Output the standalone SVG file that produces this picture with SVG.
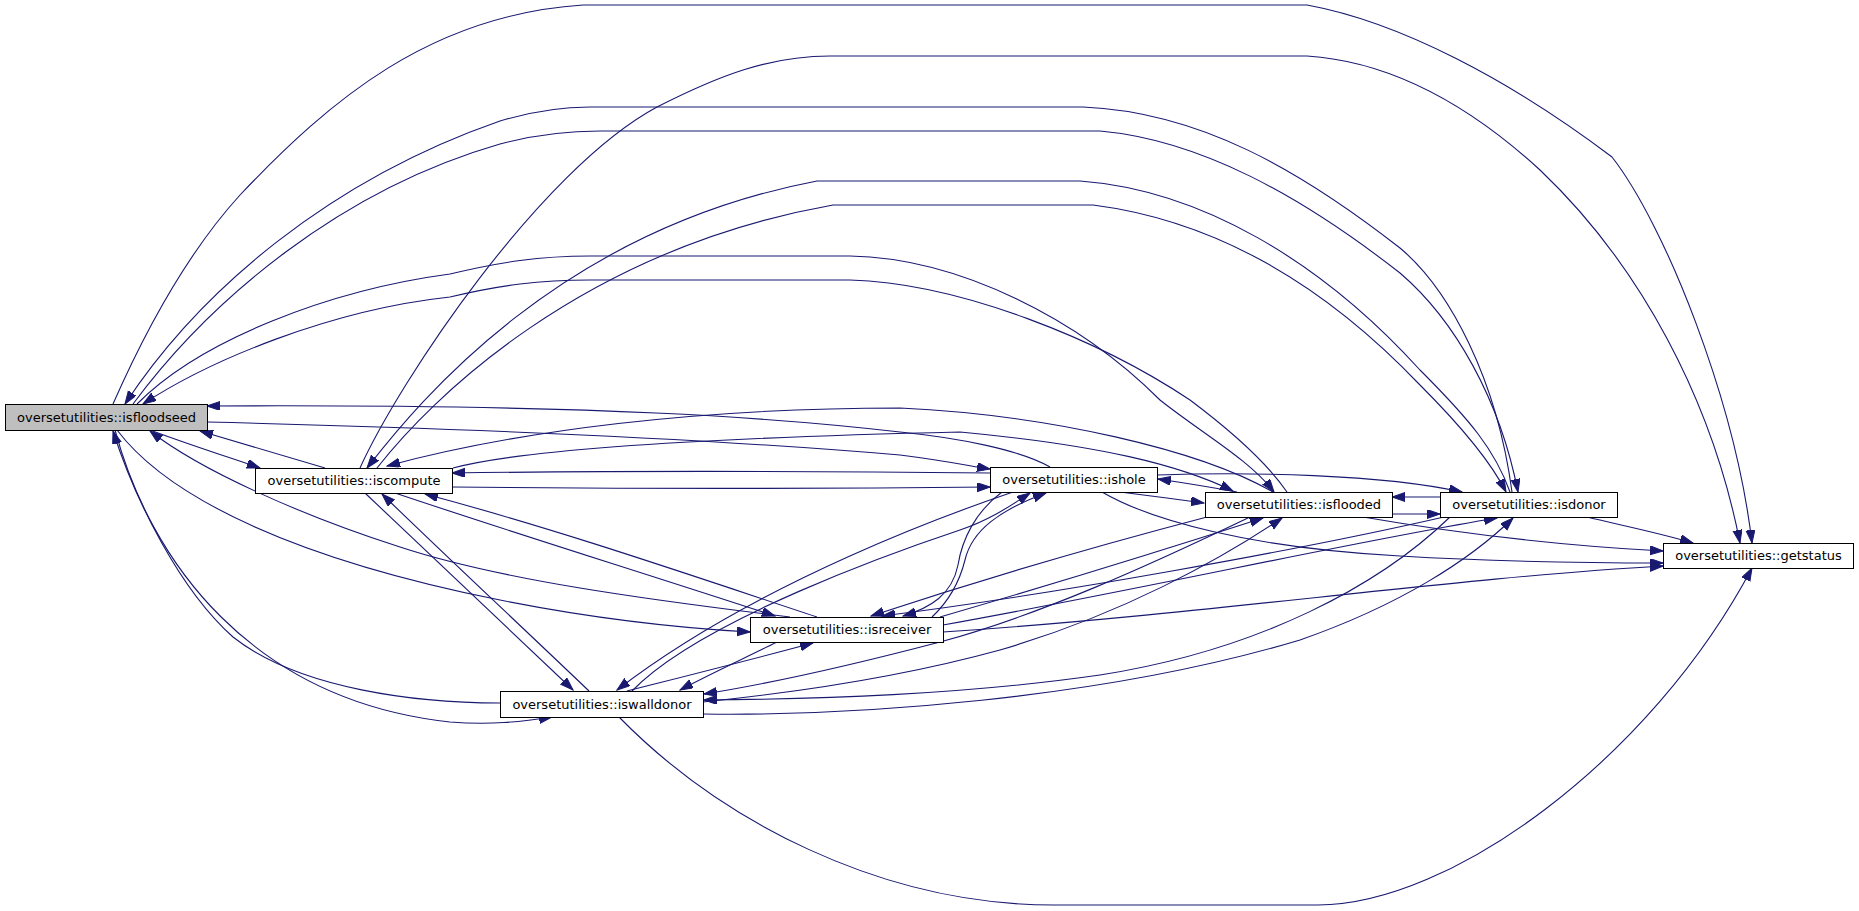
<svg xmlns="http://www.w3.org/2000/svg" width="1859" height="911" viewBox="0 0 1859 911">
<defs>
<style>
.n rect{fill:#ffffff;stroke:#000000;stroke-width:1}
.n.root rect{fill:#bfbfbf}
.n text{font-family:"DejaVu Sans","Liberation Sans",sans-serif;font-size:13px;text-anchor:middle;fill:#000000}
.e path{fill:none;stroke:#191970;stroke-width:1.1;marker-end:url(#arr)}
</style>
<marker id="arr" markerUnits="userSpaceOnUse" viewBox="0 0 14 10" markerWidth="14" markerHeight="10" refX="13" refY="4.5" orient="auto">
<path d="M0,0 L13,4.5 L0,9 z" fill="#191970" stroke="#191970" stroke-width="1"/>
</marker>
</defs>
<rect width="1859" height="911" fill="#ffffff"/>
<g id="connectors" class="e">
<path id="e_F_G" d="M113,404 C150,320 190,250 240,195 C330,100 430,15 583,5 L1307,5 C1400,22 1510,80 1612,157 C1665,225 1735,400 1752,543"/>
<path id="e_C_G" d="M360,468 C400,380 540,170 657,107 C720,75 770,56 830,56 L1307,56 C1400,62 1480,115 1540,170 C1640,265 1712,400 1740,543"/>
<path id="e_D_F" d="M1512,492 C1497,380 1450,290 1400,248 C1300,170 1200,112 1083,107 L590,107 C560,107 530,112 500,121 C330,180 200,290 125,404"/>
<path id="e_F_D" d="M133,404 C210,300 340,190 500,144 C530,136 560,131 600,131 L1100,131 C1200,140 1300,195 1400,273 C1455,320 1500,400 1518,492"/>
<path id="e_D_C" d="M1510,492 C1495,450 1470,420 1420,370 C1320,260 1200,190 1080,181 L817,181 C560,230 420,400 367,468"/>
<path id="e_C_D" d="M377,468 C430,400 580,250 833,205 L1093,205 C1210,220 1320,280 1420,385 C1460,425 1490,460 1506,492"/>
<path id="e_F_FL" d="M137,404 C200,340 330,290 450,274 C500,262 540,256 590,256 L850,256 C960,258 1080,320 1160,400 C1200,432 1250,460 1274,492"/>
<path id="e_FL_F" d="M1287,492 C1265,460 1230,430 1190,400 C1100,340 960,283 850,280 L590,280 C540,280 500,285 450,297 C330,310 210,360 143,404"/>
<path id="e_H_F" d="M1050,467 C1020,450 960,438 900,432 C780,418 600,404 207,406"/>
<path id="e_F_H" d="M207,422 C450,428 700,438 900,455 C940,460 965,465 990,469"/>
<path id="e_H_C" d="M990,473 C800,471 600,471 452,473"/>
<path id="e_C_H" d="M452,487 C650,489 800,489 990,487"/>
<path id="e_F_C" d="M150,430 C190,445 225,456 260,468"/>
<path id="e_C_F" d="M325,468 C280,455 240,443 200,431"/>
<path id="e_F_R" d="M117,430 C170,500 300,560 500,600 C600,620 680,628 750,632"/>
<path id="e_R_F" d="M790,617 C650,600 500,580 400,547 C300,515 200,470 150,431"/>
<path id="e_W_F" d="M500,703 C420,703 300,690 233,637 C180,590 135,500 113,431"/>
<path id="e_F_W" d="M115,430 C150,560 250,700 450,722 C490,725 520,722 552,717"/>
<path id="e_C_W" d="M365,493 C430,555 500,620 573,690"/>
<path id="e_W_C" d="M589,691 C520,625 450,560 382,494"/>
<path id="e_C_R" d="M395,493 C520,535 650,575 775,616"/>
<path id="e_R_C" d="M817,617 C690,575 560,530 425,494"/>
<path id="e_W_R" d="M627,691 C690,675 750,660 813,643"/>
<path id="e_R_W" d="M777,642 C745,658 712,673 680,690"/>
<path id="e_H_R" d="M1002,492 C975,512 962,540 958,565 C952,595 930,608 903,616"/>
<path id="e_R_H" d="M932,617 C950,600 960,580 965,560 C972,530 1000,510 1046,493"/>
<path id="e_H_W" d="M1013,492 C960,510 760,580 617,690"/>
<path id="e_W_H" d="M632,691 C700,620 900,550 960,530 C990,520 1010,506 1030,493"/>
<path id="e_H_FL" d="M1120,492 C1150,496 1175,499 1204,503"/>
<path id="e_FL_H" d="M1237,492 C1210,487 1185,483 1158,479"/>
<path id="e_H_D" d="M1157,475 C1250,472 1380,474 1462,492"/>
<path id="e_H_G" d="M1102,492 C1150,520 1250,548 1400,556 C1500,562 1600,563 1663,563"/>
<path id="e_C_FL" d="M453,468 C520,450 700,438 960,432 C1100,445 1180,465 1233,491"/>
<path id="e_FL_C" d="M1273,492 C1200,450 1050,415 900,408 C700,408 520,430 387,466"/>
<path id="e_FL_D" d="M1392,514 L1440,514"/>
<path id="e_D_FL" d="M1440,497 L1392,497"/>
<path id="e_FL_R" d="M1207,517 C1100,545 980,580 871,616"/>
<path id="e_R_FL" d="M940,617 C1050,585 1170,548 1263,518"/>
<path id="e_FL_W" d="M1250,517 C1150,565 1040,615 940,642 C860,663 780,682 704,694"/>
<path id="e_W_FL" d="M703,702 C820,690 920,672 1000,650 C1120,615 1220,560 1282,518"/>
<path id="e_D_R" d="M1444,517 C1300,550 1050,595 882,616"/>
<path id="e_R_D" d="M943,625 C1150,588 1350,542 1497,518"/>
<path id="e_D_W" d="M1450,517 C1380,585 1260,650 1100,675 C960,695 820,699 704,700"/>
<path id="e_W_D" d="M703,714 C850,716 1100,700 1300,640 C1400,605 1470,560 1513,518"/>
<path id="e_D_G" d="M1587,517 C1620,525 1660,533 1693,543"/>
<path id="e_FL_G" d="M1363,517 C1450,532 1550,545 1663,551"/>
<path id="e_R_G" d="M943,632 C1200,615 1450,578 1663,566"/>
<path id="e_W_G" d="M619,717 C720,820 880,905 1054,905 L1318,905 C1450,905 1650,760 1752,568"/>
</g>
<g id="node_isfloodseed" class="n root"><rect x="5.5" y="404.5" width="202" height="26"/><text x="106.5" y="421.5">oversetutilities::isfloodseed</text></g>
<g id="node_iscompute" class="n"><rect x="255.5" y="468.5" width="197" height="25"/><text x="354" y="485">oversetutilities::iscompute</text></g>
<g id="node_ishole" class="n"><rect x="990.5" y="467.5" width="167" height="25"/><text x="1074" y="484">oversetutilities::ishole</text></g>
<g id="node_isflooded" class="n"><rect x="1205.5" y="492.5" width="187" height="25"/><text x="1299" y="509">oversetutilities::isflooded</text></g>
<g id="node_isdonor" class="n"><rect x="1440.5" y="492.5" width="177" height="25"/><text x="1529" y="509">oversetutilities::isdonor</text></g>
<g id="node_getstatus" class="n"><rect x="1663.5" y="543.5" width="190" height="25"/><text x="1758.5" y="560">oversetutilities::getstatus</text></g>
<g id="node_isreceiver" class="n"><rect x="750.5" y="617.5" width="193" height="25"/><text x="847" y="634">oversetutilities::isreceiver</text></g>
<g id="node_iswalldonor" class="n"><rect x="500.5" y="691.5" width="203" height="26"/><text x="602" y="708.5">oversetutilities::iswalldonor</text></g>
</svg>
